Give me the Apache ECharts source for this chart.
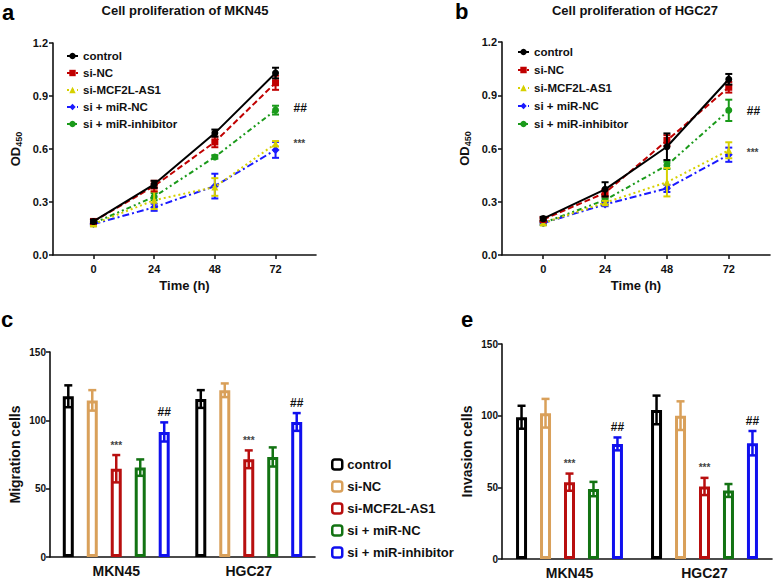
<!DOCTYPE html>
<html>
<head>
<meta charset="utf-8">
<script src="https://cdn.jsdelivr.net/npm/echarts@6/dist/echarts.min.js"></script>
<style>
  html, body { margin: 0; padding: 0; background: #fff; }
  #top { width: 774px; height: 300px; }
  #bottom { width: 774px; height: 290px; margin-top: -10px; position: relative; }
</style>
</head>
<body>
<div id="top"></div>
<div id="bottom"></div>
<script>
// groups and colours
const groups = ['control', 'si-NC', 'si-MCF2L-AS1', 'si + miR-NC', 'si + miR-inhibitor'];
const lineColors = ['#000000', '#c00000', '#d6d000', '#1a1aff', '#1a9a1a'];
const barColors = ['#000000', '#d9a05a', '#b80f0f', '#137313', '#1010ee'];
const hours = [0, 24, 48, 72];
const cells = ['MKN45', 'HGC27'];

// OD450, MKN45 (panel a)
const mknOD = [
  [0.19, 0.40, 0.69, 1.03],
  [0.19, 0.39, 0.64, 0.975],
  [0.175, 0.31, 0.385, 0.63],
  [0.175, 0.27, 0.39, 0.595],
  [0.18, 0.33, 0.555, 0.82]
];
const mknODErr = [
  [0.01, 0.02, 0.02, 0.03],
  [0.01, 0.03, 0.03, 0.04],
  [0.01, 0.05, 0.05, 0.015],
  [0.01, 0.02, 0.07, 0.045],
  [0.01, 0.02, 0.01, 0.025]
];
const mknMarks = [['##', 0.83], ['***', 0.63]];

// OD450, HGC27 (panel b)
const hgcOD = [
  [0.205, 0.37, 0.61, 0.99],
  [0.20, 0.35, 0.645, 0.945],
  [0.18, 0.295, 0.41, 0.59],
  [0.18, 0.285, 0.375, 0.565],
  [0.18, 0.31, 0.505, 0.815]
];
const hgcODErr = [
  [0.01, 0.04, 0.075, 0.03],
  [0.01, 0.02, 0.03, 0.03],
  [0.01, 0.01, 0.08, 0.045],
  [0.01, 0.01, 0.02, 0.04],
  [0.01, 0.01, 0.02, 0.06]
];
const hgcMarks = [['##', 0.81], ['***', 0.575]];

// migration (panel c): per group, [MKN45, HGC27]
const migration = [[117.6, 115.6], [114.6, 122], [64.6, 71.5], [65.4, 73.2], [91.5, 98.8]];
const migrationErr = [[8, 6.5], [7.5, 5], [10, 6.5], [6, 7], [7, 6.5]];

// invasion (panel e)
const invasion = [[98.9, 104], [101.7, 100], [53.6, 50.6], [48.8, 47.8], [80.3, 80.8]];
const invasionErr = [[8, 10], [10, 10], [6, 6], [5, 4.5], [4.5, 8.5]];

// significance marks in the bar panels: [group index, text]
const barMarks = [[2, '***'], [4, '##']];

const FONT = "'Liberation Sans', Arial, sans-serif";
const lineTypes = ['solid', [6, 3], [2, 3], [7, 3, 2, 3], [5, 3, 2, 3, 2, 3]];
const symbols = ['circle', 'rect', 'triangle', 'diamond', 'circle'];
const BAR_W = 11;
const BAR_GAP = 1.18;

const axisLineStyle = { onZero: false, lineStyle: { color: '#111', width: 1.6 } };

function errLine(color, dx) {
  return function (params, api) {
    const x = api.value(0);
    const lo = api.coord([x, api.value(1)]);
    const hi = api.coord([x, api.value(2)]);
    const cx = lo[0] + (dx || 0);
    const w = dx === undefined ? 3.5 : 4;
    const st = { stroke: color, lineWidth: dx === undefined ? 2 : 2.5 };
    return {
      type: 'group',
      children: [
        { type: 'line', shape: { x1: cx, y1: lo[1], x2: cx, y2: hi[1] }, style: st },
        { type: 'line', shape: { x1: cx - w, y1: lo[1], x2: cx + w, y2: lo[1] }, style: st },
        { type: 'line', shape: { x1: cx - w, y1: hi[1], x2: cx + w, y2: hi[1] }, style: st }
      ]
    };
  };
}

function markText(texts, dx, dy, align) {
  return function (params, api) {
    const p = api.coord([api.value(0), api.value(1)]);
    const txt = texts[params.dataIndex];
    const star = txt === '***';
    return {
      type: 'text',
      x: p[0] + dx,
      y: p[1] + dy,
      style: {
        text: txt,
        textAlign: align,
        textVerticalAlign: 'middle',
        font: (star ? 'bold 10px ' : 'bold 12px ') + FONT,
        fill: star ? '#444' : '#111'
      }
    };
  };
}

function linePanel(idx, values, errs, marks) {
  const out = [];
  groups.forEach((g, i) => {
    out.push({
      name: g,
      type: 'line',
      xAxisIndex: idx,
      yAxisIndex: idx,
      data: hours.map((h, j) => [h, values[i][j]]),
      symbol: symbols[i],
      symbolSize: i === 3 ? 8 : 7,
      color: lineColors[i],
      lineStyle: { width: 2, type: lineTypes[i], color: lineColors[i] },
      itemStyle: { color: lineColors[i] },
      z: 3 + (4 - i)
    });
    out.push({
      type: 'custom',
      xAxisIndex: idx,
      yAxisIndex: idx,
      renderItem: errLine(lineColors[i]),
      data: hours.map((h, j) => [h, values[i][j] - errs[i][j], values[i][j] + errs[i][j]]),
      z: 3 + (4 - i),
      silent: true
    });
  });
  out.push({
    type: 'custom',
    xAxisIndex: idx,
    yAxisIndex: idx,
    renderItem: markText(marks.map(m => m[0]), 18, 0, 'left'),
    data: marks.map(m => [hours[hours.length - 1], m[1]]),
    silent: true
  });
  return out;
}

function lineAxes(grids) {
  const xs = [], ys = [];
  grids.forEach((g, i) => {
    xs.push({
      type: 'value', gridIndex: i, min: -16, max: 88,
      name: 'Time (h)', nameLocation: 'middle', nameGap: 22,
      nameTextStyle: { fontFamily: FONT, fontWeight: 'bold', fontSize: 13, color: '#111' },
      axisLine: axisLineStyle,
      axisTick: { customValues: hours, length: 4, lineStyle: { color: '#111', width: 1.5 } },
      axisLabel: { customValues: hours, fontFamily: FONT, fontWeight: 'bold', fontSize: 11, color: '#111', margin: 8 },
      splitLine: { show: false }
    });
    ys.push({
      type: 'value', gridIndex: i, min: 0, max: 1.2, interval: 0.3,
      name: '{a|OD}{b|450}', nameLocation: 'middle', nameGap: 30,
      nameTextStyle: {
        rich: {
          a: { fontFamily: FONT, fontWeight: 'bold', fontSize: 13, color: '#111' },
          b: { fontFamily: FONT, fontWeight: 'bold', fontSize: 9, color: '#111', verticalAlign: 'bottom', padding: [6, 0, 0, 0] }
        }
      },
      axisLine: { show: true, onZero: false, lineStyle: { color: '#111', width: 1.6 } },
      axisTick: { show: true, length: 4, lineStyle: { color: '#111', width: 1.5 } },
      axisLabel: { formatter: v => v.toFixed(1), fontFamily: FONT, fontWeight: 'bold', fontSize: 11, color: '#111', margin: 5 },
      splitLine: { show: false }
    });
  });
  return { xs, ys };
}

const topGrids = [
  { left: 53, top: 43, width: 263, height: 212, outerBoundsMode: 'none' },
  { left: 502, top: 42, width: 268, height: 213, outerBoundsMode: 'none' }
];
const topAxes = lineAxes(topGrids);

const legendCommon = {
  orient: 'vertical',
  data: groups,
  itemWidth: 11,
  itemHeight: 8,
  textStyle: { fontFamily: FONT, fontWeight: 'bold', fontSize: 11.5, color: '#111' },
  selectedMode: false
};

const topChart = echarts.init(document.getElementById('top'), null, { renderer: 'svg' });
topChart.setOption({
  animation: false,
  backgroundColor: '#fff',
  graphic: [
    { type: 'text', left: 2, top: 1, style: { text: 'a', font: 'bold 22px ' + FONT, fill: '#000' } },
    { type: 'text', left: 455, top: 0, style: { text: 'b', font: 'bold 22px ' + FONT, fill: '#000' } },
    { type: 'text', x: 185, y: 4, style: { text: 'Cell proliferation of MKN45', textAlign: 'center', font: 'bold 13px ' + FONT, fill: '#111' } },
    { type: 'text', x: 635, y: 4, style: { text: 'Cell proliferation of HGC27', textAlign: 'center', font: 'bold 13px ' + FONT, fill: '#111' } }
  ],
  grid: topGrids,
  xAxis: topAxes.xs,
  yAxis: topAxes.ys,
  legend: [
    Object.assign({}, legendCommon, { left: 61, top: 45, itemGap: 5 }),
    Object.assign({}, legendCommon, { left: 512, top: 41, itemGap: 6 })
  ],
  series: linePanel(0, mknOD, mknODErr, mknMarks).concat(linePanel(1, hgcOD, hgcODErr, hgcMarks))
});

// ---- bar panels ----
function barPanel(idx, values, errs) {
  const out = [];
  const step = BAR_W * (1 + BAR_GAP);
  const offset = i => (i - (groups.length - 1) / 2) * step;
  groups.forEach((g, i) => {
    out.push({
      name: g,
      type: 'bar',
      xAxisIndex: idx,
      yAxisIndex: idx,
      data: values[i],
      barWidth: BAR_W,
      barGap: (BAR_GAP * 100) + '%',
      itemStyle: { color: '#fff', borderColor: barColors[i], borderWidth: 3 }
    });
  });
  groups.forEach((g, i) => {
    out.push({
      type: 'custom',
      xAxisIndex: idx,
      yAxisIndex: idx,
      renderItem: errLine(barColors[i], offset(i)),
      data: cells.map((c, j) => [j, values[i][j] - errs[i][j], values[i][j] + errs[i][j]]),
      z: 5,
      silent: true
    });
  });
  barMarks.forEach(([gi, txt]) => {
    out.push({
      type: 'custom',
      xAxisIndex: idx,
      yAxisIndex: idx,
      renderItem: markText(cells.map(() => txt), offset(gi), -10, 'center'),
      data: cells.map((c, j) => [j, values[gi][j] + errs[gi][j]]),
      z: 6,
      silent: true
    });
  });
  return out;
}

function barAxes(names) {
  const xs = [], ys = [];
  names.forEach((n, i) => {
    xs.push({
      type: 'category', gridIndex: i, data: cells,
      axisLine: axisLineStyle,
      axisTick: { alignWithLabel: true, length: 4, lineStyle: { color: '#111', width: 1.5 } },
      axisLabel: { fontFamily: FONT, fontWeight: 'bold', fontSize: 14, color: '#111', margin: 7 }
    });
    ys.push({
      type: 'value', gridIndex: i, min: 0, max: 150, interval: 50,
      name: n, nameLocation: 'middle', nameGap: 28,
      nameTextStyle: { fontFamily: FONT, fontWeight: 'bold', fontSize: 14, color: '#111' },
      axisLine: { show: true, onZero: false, lineStyle: { color: '#111', width: 1.6 } },
      axisTick: { show: true, length: 4, lineStyle: { color: '#111', width: 1.5 } },
      axisLabel: { fontFamily: FONT, fontWeight: 'bold', fontSize: 10, color: '#111', margin: 4 },
      splitLine: { show: false }
    });
  });
  return { xs, ys };
}

const botAxes = barAxes(['Migration cells', 'Invasion cells']);
const bottomChart = echarts.init(document.getElementById('bottom'), null, { renderer: 'svg' });
bottomChart.setOption({
  animation: false,
  backgroundColor: 'transparent',
  graphic: [
    { type: 'text', left: 1, top: 18, style: { text: 'c', font: 'bold 22px ' + FONT, fill: '#000' } },
    { type: 'text', left: 461, top: 18, style: { text: 'e', font: 'bold 22px ' + FONT, fill: '#000' } }
  ],
  grid: [
    { left: 50, top: 62, width: 265, height: 205, outerBoundsMode: 'none' },
    { left: 502, top: 54, width: 270, height: 215, outerBoundsMode: 'none' }
  ],
  xAxis: botAxes.xs,
  yAxis: botAxes.ys,
  legend: {
    orient: 'vertical',
    left: 326, top: 163,
    data: groups,
    itemWidth: 10, itemHeight: 10, itemGap: 9,
    itemStyle: { borderWidth: 2.5 },
    textStyle: { fontFamily: FONT, fontWeight: 'bold', fontSize: 13, color: '#111' },
    selectedMode: false
  },
  series: barPanel(0, migration, migrationErr).concat(barPanel(1, invasion, invasionErr))
});
</script>
</body>
</html>
